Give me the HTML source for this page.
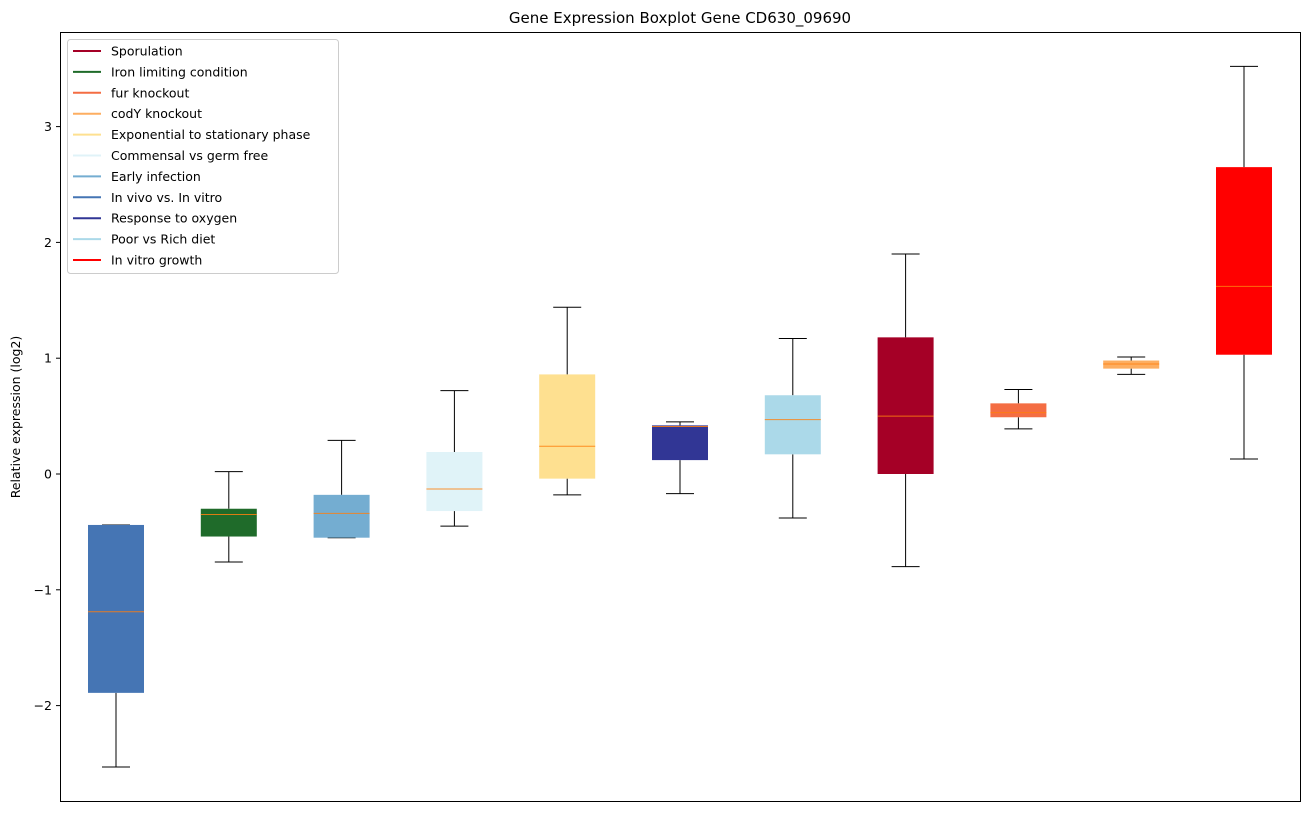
<!DOCTYPE html>
<html><head><meta charset="utf-8"><style>
body{margin:0;background:#fff;font-family:"Liberation Sans","DejaVu Sans",sans-serif;}
svg text{font-family:"DejaVu Sans","Liberation Sans",sans-serif;}
</style></head><body>
<svg id="chart" width="1309" height="812" xmlns="http://www.w3.org/2000/svg">
<rect x="0" y="0" width="1309" height="812" fill="#fff"/>
<text x="680" y="23" text-anchor="middle" font-size="15">Gene Expression Boxplot Gene CD630_09690</text>
<text transform="translate(20,417) rotate(-90)" text-anchor="middle" font-size="12.5">Relative expression (log2)</text>
<g id="ticks"></g>
<g id="boxes"></g>
<rect x="60.5" y="32.5" width="1240" height="769" fill="none" stroke="#000" stroke-width="1"/>
<g id="legend"></g>
</svg>
<script>
const categories=["In vivo vs. In vitro","Iron limiting condition","Early infection","Commensal vs germ free","Exponential to stationary phase","Response to oxygen","Poor vs Rich diet","Sporulation","fur knockout","codY knockout","In vitro growth"];
const colors=["#4575b4","#1f6b2a","#74add1","#e0f3f8","#fee090","#313695","#abd9e9","#a50026","#f46d43","#fdae61","#ff0000"];
const whiskerLow=[-2.53,-0.76,-0.55,-0.45,-0.18,-0.17,-0.38,-0.80,0.39,0.86,0.13];
const q1=[-1.89,-0.54,-0.55,-0.32,-0.04,0.12,0.17,0.0,0.49,0.91,1.03];
const medians=[-1.19,-0.35,-0.34,-0.13,0.24,0.41,0.47,0.50,0.53,0.95,1.62];
const q3=[-0.44,-0.30,-0.18,0.19,0.86,0.42,0.68,1.18,0.61,0.98,2.65];
const whiskerHigh=[-0.44,0.02,0.29,0.72,1.44,0.45,1.17,1.90,0.73,1.01,3.52];
const yTicks=[-2,-1,0,1,2,3];
const yTickLabels=["\u22122","\u22121","0","1","2","3"];
const legendLabels=["Sporulation","Iron limiting condition","fur knockout","codY knockout","Exponential to stationary phase","Commensal vs germ free","Early infection","In vivo vs. In vitro","Response to oxygen","Poor vs Rich diet","In vitro growth"];
const legendColors=["#a50026","#1f6b2a","#f46d43","#fdae61","#fee090","#e0f3f8","#74add1","#4575b4","#313695","#abd9e9","#ff0000"];

const NS="http://www.w3.org/2000/svg";
const yScale=v=>474-v*115.8;
const xScale=i=>116+i*112.8;
function mk(tag,attrs,parent){const e=document.createElementNS(NS,tag);for(const k in attrs)e.setAttribute(k,attrs[k]);parent.appendChild(e);return e;}
const tg=document.getElementById('ticks');
yTicks.forEach((t,i)=>{
  const y=yScale(t);
  const l=mk('line',{x1:56,x2:60,y1:y,y2:y,stroke:'#000'},tg);
  
  
  const tx=mk('text',{x:52,y:y+4.5,'text-anchor':'end','font-size':12.5},tg);
  tx.textContent=yTickLabels[i];
  
  
});
const bg=document.getElementById('boxes');
categories.forEach((c,i)=>{
  const x=xScale(i),w=56;
  const g=mk('g',{},bg);
  
  
  mk('line',{x1:x,x2:x,y1:yScale(whiskerLow[i]),y2:yScale(q1[i]),stroke:'#000'},g);
  mk('line',{x1:x,x2:x,y1:yScale(q3[i]),y2:yScale(whiskerHigh[i]),stroke:'#000'},g);
  mk('line',{x1:x-14,x2:x+14,y1:yScale(whiskerLow[i]),y2:yScale(whiskerLow[i]),stroke:'#000'},g);
  mk('line',{x1:x-14,x2:x+14,y1:yScale(whiskerHigh[i]),y2:yScale(whiskerHigh[i]),stroke:'#000'},g);
  mk('rect',{x:x-w/2,y:yScale(q3[i]),width:w,height:Math.max(1,yScale(q1[i])-yScale(q3[i])),fill:colors[i]},g);
  mk('line',{x1:x-w/2,x2:x+w/2,y1:yScale(medians[i]),y2:yScale(medians[i]),stroke:'#ff7f0e','stroke-width':1,opacity:0.85},g);
});
const lg=document.getElementById('legend');
const lb=mk('rect',{x:67.5,y:39.5,width:271,height:234,fill:'#fff',stroke:'#ccc',rx:3},lg);


legendLabels.forEach((t,i)=>{
  const y=51+i*20.9;
  const g=mk('g',{},lg);
  
  
  mk('line',{x1:73,x2:101,y1:y,y2:y,stroke:legendColors[i],'stroke-width':2},g);
  const tx=mk('text',{x:111,y:y+4.5,'font-size':12.5},g);
  tx.textContent=t;
});
</script>
</body></html>
